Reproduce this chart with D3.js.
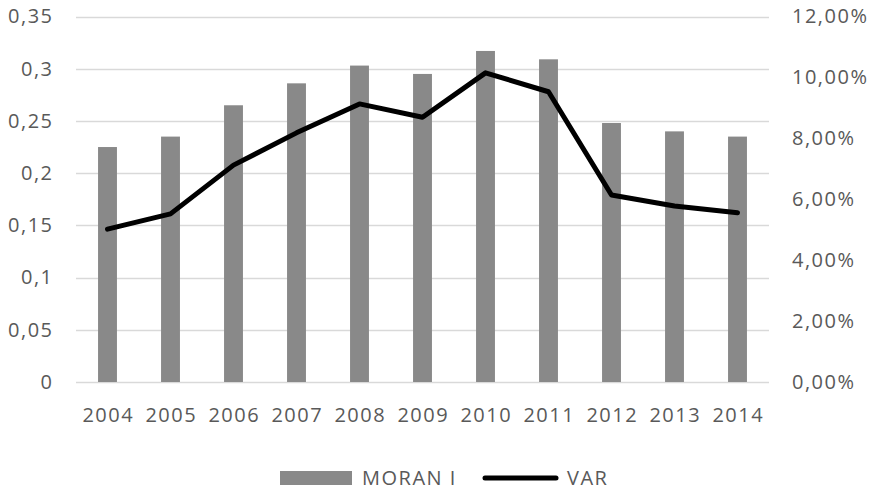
<!DOCTYPE html>
<html>
<head>
<meta charset="utf-8">
<script src="https://cdn.jsdelivr.net/npm/d3@7/dist/d3.min.js"></script>
<style>
  html, body { margin: 0; padding: 0; background: #fff; }
  svg { display: block; }
  text { font-family: "Open Sans", "Noto Sans", sans-serif; fill: #595959; letter-spacing: 1.5px; }
</style>
</head>
<body>
<svg id="chart" width="874" height="491"></svg>
<script>
// Years on the category axis
const years = ["2004","2005","2006","2007","2008","2009","2010","2011","2012","2013","2014"];
// Moran's I per year (bars, left axis)
const moranI = [0.225, 0.235, 0.265, 0.286, 0.303, 0.295, 0.317, 0.309, 0.248, 0.240, 0.235];
// VAR per year, as a fraction (line, right axis)
const varValues = [0.0502, 0.0552, 0.0712, 0.0818, 0.0913, 0.0869, 0.1015, 0.0953, 0.0614, 0.0578, 0.0556];
// Tick values for both value axes
const leftTicks = [0, 0.05, 0.1, 0.15, 0.2, 0.25, 0.3, 0.35];
const rightTicks = [0, 0.02, 0.04, 0.06, 0.08, 0.10, 0.12];
// Legend entries
const legendLabels = ["MORAN I", "VAR"];

const svg = d3.select("#chart");
const plot = { left: 76, right: 769, top: 16.5, bottom: 382 };

const x = d3.scaleBand()
  .domain(years)
  .range([plot.left, plot.right])
  .paddingInner(0.7)
  .paddingOuter(0.35);

const yLeft = d3.scaleLinear().domain([0, 0.35]).range([plot.bottom, plot.top]);
const yRight = d3.scaleLinear().domain([0, 0.12]).range([plot.bottom, plot.top]);

const fmtLeft = v => (v === 0 ? "0" : String(+v.toFixed(2)).replace(".", ","));
const fmtRight = v => (v * 100).toFixed(2).replace(".", ",") + "%";

// Horizontal gridlines
svg.append("g")
  .selectAll("line")
  .data(leftTicks)
  .join("line")
  .attr("x1", plot.left)
  .attr("x2", plot.right)
  .attr("y1", d => Math.round(yLeft(d)) + 0.5)
  .attr("y2", d => Math.round(yLeft(d)) + 0.5)
  .attr("stroke", "#d9d9d9")
  .attr("stroke-width", 1.5);

function styleAxisText(g) {
  g.select(".domain").remove();
  g.selectAll("text")
    .attr("font-size", 20)
    .attr("fill", "#595959")
    .style("font-family", "'Open Sans', sans-serif")
    .style("letter-spacing", "1.5px");
}

// Left axis
svg.append("g")
  .attr("transform", `translate(${plot.left},0)`)
  .call(d3.axisLeft(yLeft).tickValues(leftTicks).tickFormat(fmtLeft).tickSize(0).tickPadding(22.5))
  .call(styleAxisText);

// Right axis
svg.append("g")
  .attr("transform", `translate(${plot.right},0)`)
  .call(d3.axisRight(yRight).tickValues(rightTicks).tickFormat(fmtRight).tickSize(0).tickPadding(23))
  .call(styleAxisText);

// Bottom axis
svg.append("g")
  .attr("transform", `translate(0.75,${plot.bottom})`)
  .call(d3.axisBottom(x).tickSize(0).tickPadding(26))
  .call(styleAxisText);

// Bars
svg.append("g")
  .selectAll("rect")
  .data(years.map((yr, i) => ({ yr, v: moranI[i] })))
  .join("rect")
  .attr("x", d => x(d.yr))
  .attr("width", x.bandwidth())
  .attr("y", d => yLeft(d.v))
  .attr("height", d => plot.bottom - yLeft(d.v))
  .attr("fill", "#898989");

// Line
const line = d3.line()
  .x((d, i) => x(years[i]) + x.bandwidth() / 2)
  .y(d => yRight(d));

svg.append("path")
  .datum(varValues)
  .attr("d", line)
  .attr("fill", "none")
  .attr("stroke", "#000")
  .attr("stroke-width", 5)
  .attr("stroke-linejoin", "round")
  .attr("stroke-linecap", "round");

// Legend
const legend = svg.append("g");
legend.append("rect")
  .attr("x", 280).attr("y", 471).attr("width", 72).attr("height", 14)
  .attr("fill", "#898989");
legend.append("text")
  .attr("x", 362).attr("y", 485)
  .attr("font-size", 20)
  .text(legendLabels[0]);
legend.append("line")
  .attr("x1", 485).attr("x2", 556).attr("y1", 478).attr("y2", 478)
  .attr("stroke", "#000").attr("stroke-width", 5).attr("stroke-linecap", "round");
legend.append("text")
  .attr("x", 567).attr("y", 485)
  .attr("font-size", 20)
  .text(legendLabels[1]);
</script>
</body>
</html>
